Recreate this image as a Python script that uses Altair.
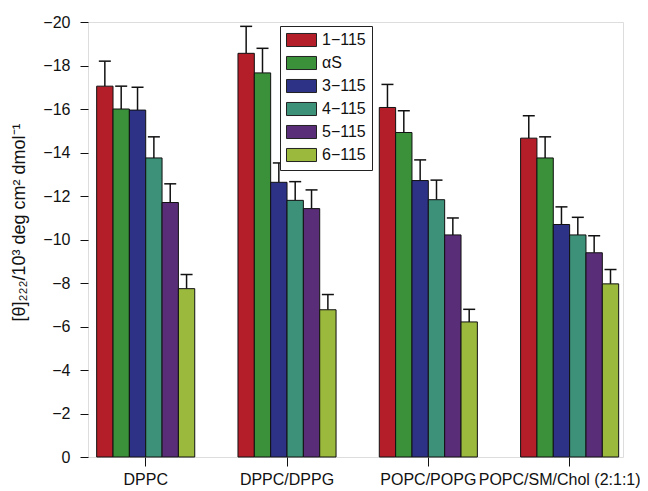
import altair as alt
import pandas as pd

groups = ["DPPC", "DPPC/DPPG", "POPC/POPG", "POPC/SM/Chol (2:1:1)"]
series = ["1−115", "αS", "3−115", "4−115", "5−115", "6−115"]
colors = ["#B41E28", "#3A913A", "#2D3287", "#3C9178", "#5A2D78", "#9BB93C"]

# mean ellipticity values per group (order = series)
val_dppc = [-17.05, -16.0, -15.95, -13.75, -11.7, -7.74]
val_dppg = [-18.56, -17.66, -12.63, -11.8, -11.42, -6.77]
val_popg = [-16.07, -14.92, -12.71, -11.83, -10.21, -6.21]
val_chol = [-14.66, -13.75, -10.69, -10.21, -9.39, -7.96]

# error bar lengths
err_dppc = [1.15, 1.05, 1.05, 0.97, 0.86, 0.65]
err_dppg = [1.24, 1.13, 0.89, 0.86, 0.86, 0.70]
err_popg = [1.06, 1.00, 0.95, 0.90, 0.78, 0.58]
err_chol = [1.03, 0.97, 0.81, 0.81, 0.78, 0.66]

rows = []
for g, vals, errs in zip(groups, [val_dppc, val_dppg, val_popg, val_chol],
                         [err_dppc, err_dppg, err_popg, err_chol]):
    for s, v, e in zip(series, vals, errs):
        rows.append({"group": g, "series": s, "value": v, "top": v - e})
df = pd.DataFrame(rows)

FONT = "Liberation Sans"

x_enc = alt.X("group:N", sort=groups,
              scale=alt.Scale(paddingInner=0.306, paddingOuter=0.046, align=0.667),
              axis=alt.Axis(title=None, labelAngle=0, labelFontSize=16, labelFont=FONT,
                            labelColor="#111", tickSize=9, tickColor="#111", tickWidth=1,
                            labelPadding=5, domain=False, labelOverlap=False,
                            labelBound=False,
                            labelOffset={"condition": {"test": "datum.value === 'POPC/SM/Chol (2:1:1)'",
                                                       "value": -10}, "value": 0}))
xoff_enc = alt.XOffset("series:N", sort=series,
                       scale=alt.Scale(paddingInner=0, paddingOuter=0))

y_scale = alt.Scale(domain=[0, -20], nice=False)
y_axis = alt.Axis(
    title="[θ]₂₂₂/10³ deg cm² dmol⁻¹",
    values=list(range(0, -21, -1)),
    labelExpr="datum.value % 2 === 0 ? datum.label : ''",
    labelOverlap=False,
    tickSize={"condition": {"test": "datum.value % 2 === 0", "value": 8}, "value": 4.5},
    tickColor="#111", tickWidth=1, domain=False, grid=False,
    labelFontSize=16, labelFont=FONT, labelColor="#111", labelPadding=10,
    titleFontSize=18, titleFont=FONT, titleFontWeight="normal", titleColor="#111",
    titlePadding=14, titleY=200,
)

base = alt.Chart(df).encode(x=x_enc, xOffset=xoff_enc)

bars = base.mark_bar(stroke="#111", strokeWidth=1, opacity=1).encode(
    y=alt.Y("value:Q", scale=y_scale, axis=y_axis),
    color=alt.Color("series:N", sort=series,
                    scale=alt.Scale(domain=series, range=colors),
                    legend=alt.Legend(
                        orient="none", legendX=192, legendY=4, title=None,
                        symbolType="M-1,-0.87H3V0.87H-1Z", symbolSize=225,
                        symbolStrokeColor="#222", symbolStrokeWidth=1, symbolOpacity=1,
                        labelFontSize=16, labelFont=FONT, labelColor="#111",
                        labelOffset=20, rowPadding=5, padding=6,
                        strokeColor="#222", fillColor="white", cornerRadius=0,
                    )),
)

errs = base.mark_rule(color="#111", strokeWidth=1.5).encode(
    y=alt.Y("value:Q", scale=y_scale), y2="top:Q")

caps = base.mark_tick(orient="horizontal", size=12, thickness=1.5, color="#111",
                      opacity=1).encode(y=alt.Y("top:Q", scale=y_scale))

chart = alt.layer(errs, caps, bars).properties(
    width=535, height=435, autosize="none",
    padding={"left": 80, "top": 14, "right": 17, "bottom": 34},
).configure_view(stroke="#111", strokeWidth=1.2).configure(font=FONT)

chart.save("out.html", embed_options={"renderer": "svg", "actions": False})
